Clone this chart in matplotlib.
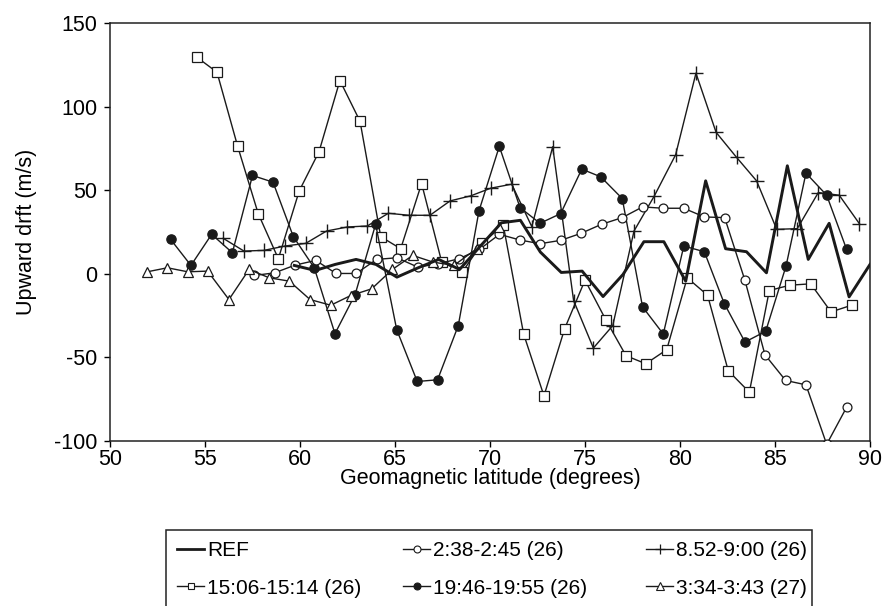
import matplotlib
matplotlib.use("Agg")
import matplotlib.pyplot as plt
from matplotlib.lines import Line2D
from matplotlib.patches import Rectangle

plt.rcParams['font.family'] = ['Liberation Sans', 'DejaVu Sans']
plt.rcParams['axes.unicode_minus'] = False

# ---------------- data ----------------
ref_lat = [59.7, 60.8, 61.85, 62.95, 64.0, 65.1, 66.2, 67.3, 68.4, 69.45, 70.6, 71.6,
           72.65, 73.75, 74.85, 75.95, 77.0, 78.1, 79.15, 80.3, 81.35, 82.4, 83.5,
           84.55, 85.65, 86.75, 87.85, 88.9, 90.0]
ref_val = [5, 2, 5.6, 8.6, 5.6, -2, 3.5, 8.6, 2.6, 16, 30.5, 32,
           13, 0.8, 1.6, -13.6, -0.4, 19.2, 19.2, -4.4, 55.6, 15, 13.2,
           0.6, 64.6, 8.6, 30.2, -13.8, 5.6]

s0238_lat = [57.6, 58.67, 59.74, 60.83, 61.9, 62.96, 64.03, 65.1, 66.2, 67.28, 68.37,
             69.44, 70.5, 71.58, 72.63, 73.72, 74.79, 75.87, 76.96, 78.03, 79.12,
             80.2, 81.28, 82.35, 83.42, 84.47, 85.56, 86.63, 87.72, 88.77]
s0238_val = [-1, 0.6, 5.2, 8, 0.2, 0.2, 8.6, 9.6, 4, 6, 9,
             14.6, 23.6, 20.2, 18, 20, 24.2, 29.6, 33.6, 40, 39.2,
             39.2, 34, 33.6, -4, -48.4, -63.8, -66.4, -102, -79.8]

s0852_lat = [55.96, 57.05, 58.1, 59.2, 60.3, 61.4, 62.49, 63.54, 64.65, 65.74, 66.84,
             67.9, 68.98, 70.04, 71.14, 72.2, 73.3, 74.4, 75.44, 76.46, 77.58, 78.65,
             79.77, 80.84, 81.9, 82.98, 84.03, 85.09, 86.17, 87.28, 88.38, 89.44]
s0852_val = [21.2, 13.6, 14, 16.6, 18.2, 25.6, 28, 28.6, 36.2, 35, 35,
             43.6, 46.6, 51.2, 53.6, 28.2, 76, -16, -44.4, -31, 25.6, 46.6,
             71.2, 120, 84.6, 69.6, 55.6, 26.6, 27, 48.6, 47, 30]

s1506_lat = [54.56, 55.63, 56.72, 57.8, 58.86, 59.96, 61.0, 62.1, 63.16, 64.25, 65.3,
             66.4, 67.46, 68.54, 69.6, 70.7, 71.77, 72.84, 73.93, 75.0, 76.09, 77.16,
             78.2, 79.3, 80.38, 81.45, 82.54, 83.65, 84.7, 85.79, 86.88, 87.95, 89.03]
s1506_val = [129.6, 120.6, 76.2, 36, 9, 49.6, 73, 115.6, 91.2, 22.2, 15,
             54, 7, 1, 18.6, 29, -36, -73, -32.8, -3.8, -27.4, -49,
             -53.8, -45.4, -2.4, -12.8, -58, -70.8, -10, -6.8, -6, -22.8, -18.8]

s1946_lat = [53.19, 54.26, 55.35, 56.44, 57.5, 58.58, 59.65, 60.75, 61.84, 62.9, 63.98,
             65.09, 66.17, 67.24, 68.33, 69.42, 70.49, 71.58, 72.63, 73.72, 74.83, 75.83,
             76.96, 78.03, 79.12, 80.2, 81.28, 82.33, 83.42, 84.51, 85.58, 86.63, 87.72, 88.77]
s1946_val = [20.6, 5, 23.6, 12.6, 58.8, 54.8, 22.2, 3.6, -35.8, -12.4, 29.6,
             -33.4, -64.4, -63.4, -31, 37.6, 76.2, 39.6, 30.2, 36, 62.6, 58,
             45, -19.8, -36, 16.6, 13.2, -17.8, -40.8, -34.4, 4.6, 60.2, 47, 14.6]

s0334_lat = [51.96, 53.02, 54.09, 55.14, 56.26, 57.32, 58.38, 59.44, 60.53, 61.62, 62.67,
             63.77, 64.86, 65.93, 67.0, 68.1, 69.3, 70.5]
s0334_val = [1.2, 3.6, 1.2, 1.6, -15.4, 2.6, -2.4, -4.4, -15.4, -18.8, -13,
             -9, 2.6, 11, 7, 5, 15, 28]

labels = ['REF', '2:38-2:45 (26)', '8.52-9:00 (26)',
          '15:06-15:14 (26)', '19:46-19:55 (26)', '3:34-3:43 (27)']

x_ticks = [50, 55, 60, 65, 70, 75, 80, 85, 90]
y_ticks = [-100, -50, 0, 50, 100, 150]

# ---------------- figure ----------------
W, H = 885, 606
fig = plt.figure(figsize=(W / 100, H / 100), dpi=100)
ax = fig.add_axes([110 / W, 1 - 441 / H, (870 - 110) / W, (441 - 23) / H])

C = '#1a1a1a'
lw = 1.0
styles = [
    dict(color=C, lw=2.1, marker=None),
    dict(color=C, lw=lw, marker='o', ms=6.4, mfc='white', mec=C, mew=0.9),
    dict(color=C, lw=lw, marker='+', ms=9.5, mec=C, mew=1.0),
    dict(color=C, lw=lw, marker='s', ms=6.7, mfc='white', mec=C, mew=0.9),
    dict(color=C, lw=lw, marker='o', ms=6.7, mfc=C, mec=C, mew=0.9),
    dict(color=C, lw=lw, marker='^', ms=7.0, mfc='white', mec=C, mew=0.9),
]
series = [(ref_lat, ref_val), (s0238_lat, s0238_val), (s0852_lat, s0852_val),
          (s1506_lat, s1506_val), (s1946_lat, s1946_val), (s0334_lat, s0334_val)]

draw_order = [3, 2, 4, 1, 5, 0]
for i in draw_order:
    xs, ys = series[i]
    ax.plot(xs, ys, zorder=3 if i else 4, **styles[i])

ax.set_xlim(50, 90)
ax.set_ylim(-100, 150)
ax.set_xticks(x_ticks)
ax.set_yticks(y_ticks)
ax.tick_params(direction='out', length=4, width=1, labelsize=15.5, colors='black')
ax.tick_params(axis='x', pad=1.5)
ax.tick_params(axis='y', pad=5)
for sp in ax.spines.values():
    sp.set_linewidth(1.1)
    sp.set_color('#222222')
ax.set_xlabel('Geomagnetic latitude (degrees)', fontsize=15.5, labelpad=-1)
ax.set_ylabel('Upward drft (m/s)', fontsize=15.5, labelpad=12)

# ---------------- legend ----------------
fig.patches.append(Rectangle((166 / W, -0.02), (812 - 166) / W, 0.02 + 1 - 530 / H,
                             transform=fig.transFigure, fill=False, lw=1.1,
                             edgecolor='#222222', zorder=1))

leg_styles = [
    dict(color=C, lw=2.0),
    dict(color=C, lw=lw, marker='o', ms=5, mfc='white', mec=C, mew=0.8),
    dict(color=C, lw=lw, marker='+', ms=7, mec=C, mew=0.9),
    dict(color=C, lw=lw, marker='s', ms=5, mfc='white', mec=C, mew=0.8),
    dict(color=C, lw=lw, marker='o', ms=5, mfc=C, mec=C, mew=0.8),
    dict(color=C, lw=lw, marker='^', ms=5.2, mfc='white', mec=C, mew=0.8),
]
col_x = [177, 403, 646]
row_y = [551, 588]
for k in range(6):
    r, c = divmod(k, 3)
    h = Line2D([], [], **leg_styles[k])
    fig.legend(handles=[h], labels=[labels[k]], loc='center left',
               bbox_to_anchor=(col_x[c] / W, 1 - row_y[r] / H),
               frameon=False, fontsize=15, handlelength=1.3,
               handletextpad=0.15, borderpad=0, borderaxespad=0)

fig.savefig('out.png', dpi=100)
